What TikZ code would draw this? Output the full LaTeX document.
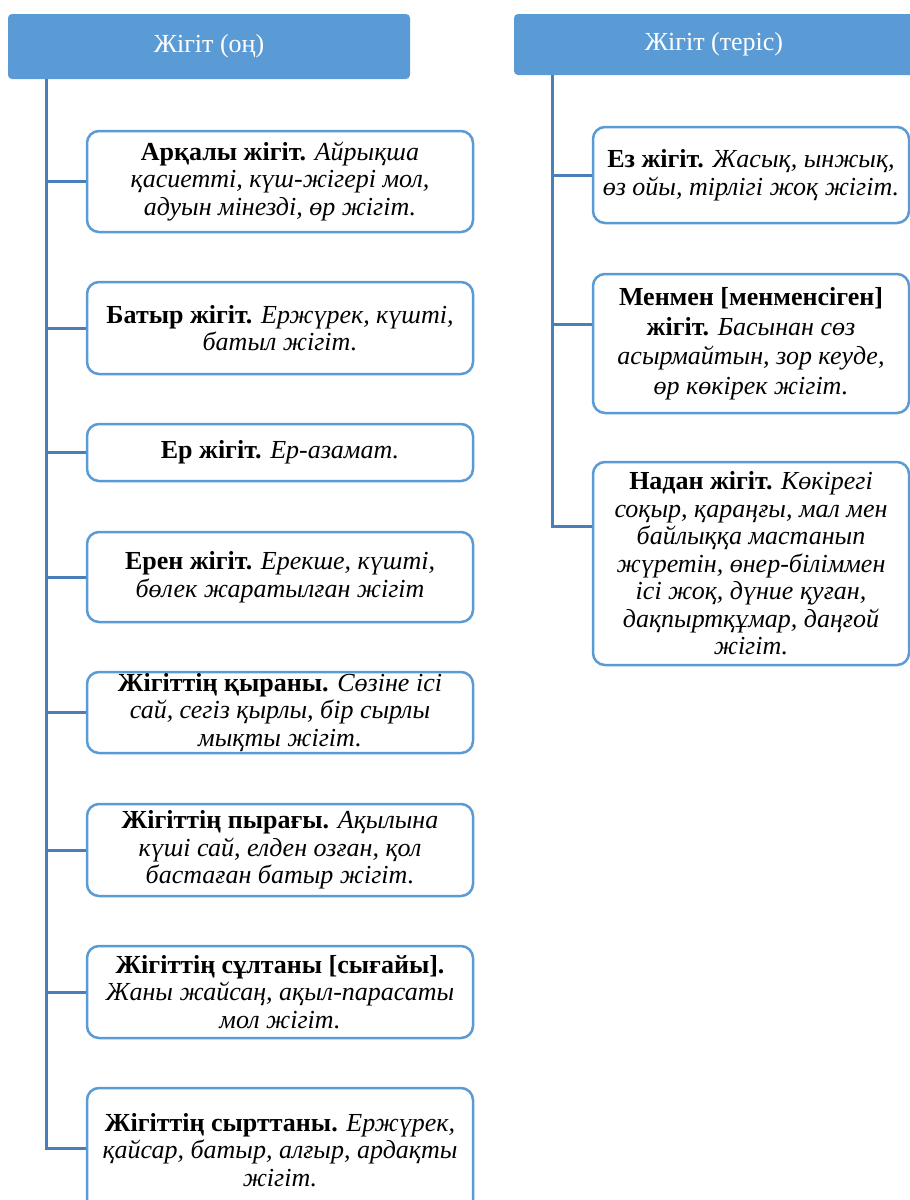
\documentclass[tikz,border=0pt]{standalone}
\usepackage{fontspec}
\setmainfont{Liberation Serif}
\usetikzlibrary{positioning}
\definecolor{hdrblue}{HTML}{5B9BD5}
\definecolor{lineblue}{HTML}{4A7EBB}
\tikzstyle{header}=[rectangle,rounded corners=4pt,fill=hdrblue,text=white,inner sep=0pt,font=\fontsize{26}{28}\selectfont]
\tikzstyle{entry}=[rectangle,draw=hdrblue,fill=white,line width=2.5pt,rounded corners=12pt,align=center,inner sep=0pt,font=\fontsize{26}{27.5}\selectfont]
\tikzstyle{leftentry}=[entry,minimum width=386pt]
\tikzstyle{rightentry}=[entry,minimum width=316pt]
\tikzstyle{branch}=[draw=lineblue,line width=3pt]

\begin{document}
\begin{tikzpicture}[x=1pt,y=-1pt]
    \useasboundingbox (0,0) rectangle (910,1200);

    % two headings
    \node[header,minimum width=402pt,minimum height=65pt] (onhdr) at (209,46.5) {Жігіт (оң)};
    \node[header,minimum width=400pt,minimum height=61pt] (terishdr) at (714,44.5) {Жігіт (теріс)};
    \coordinate (onT) at ([xshift=39pt]onhdr.south west);
    \coordinate (terisT) at ([xshift=39pt]terishdr.south west);

    % positive kinds
    \foreach \pos/ \name/ \boxh/ \label in {
        {(280,181.5)/arq/101/{\textbf{Арқалы жігіт.} \textit{Айрықша}\\ \textit{қасиетті, күш-жігері мол,}\\ \textit{адуын мінезді, өр жігіт.}}},
        {(280,328)/batyr/92/{\textbf{Батыр жігіт.} \textit{Ержүрек, күшті,}\\ \textit{батыл жігіт.}}},
        {(280,452.5)/er/57/{\textbf{Ер жігіт.} \textit{Ер-азамат.}}},
        {(280,577)/eren/90/{\textbf{Ерен жігіт.} \textit{Ерекше, күшті,}\\ \textit{бөлек жаратылған жігіт}}},
        {(280,712.5)/qyran/81/{\textbf{Жігіттің қыраны.} \textit{Сөзіне ісі}\\ \textit{сай, сегіз қырлы, бір сырлы}\\ \textit{мықты жігіт.}}},
        {(280,850)/pyraq/92/{\textbf{Жігіттің пырағы.} \textit{Ақылына}\\ \textit{күші сай, елден озған, қол}\\ \textit{бастаған батыр жігіт.}}},
        {(280,992)/sultan/92/{\textbf{Жігіттің сұлтаны [сығайы].}\\ \textit{Жаны жайсаң, ақыл-парасаты}\\ \textit{мол жігіт.}}},
        {(280,1150)/syrt/124/{\textbf{Жігіттің сырттаны.} \textit{Ержүрек,}\\ \textit{қайсар, батыр, алғыр, ардақты}\\ \textit{жігіт.}}}}
        \node[leftentry,minimum height=\boxh pt] (\name) at \pos {\label};

    % negative kinds
    \foreach \pos/ \name/ \boxh/ \label in {
        {(751,175)/ez/96/{\textbf{Ез жігіт.} \textit{Жасық, ынжық,}\\ \textit{өз ойы, тірлігі жоқ жігіт.}}},
        {(751,343.5)/menmen/139/{\textbf{Менмен [менменсіген]}\\[2pt] \textbf{жігіт.} \textit{Басынан сөз}\\[2pt] \textit{асырмайтын, зор кеуде,}\\[2pt] \textit{өр көкірек жігіт.}}},
        {(751,563.5)/nadan/203/{\textbf{Надан жігіт.} \textit{Көкірегі}\\ \textit{соқыр, қараңғы, мал мен}\\ \textit{байлыққа мастанып}\\ \textit{жүретін, өнер-біліммен}\\ \textit{ісі жоқ, дүние қуған,}\\ \textit{дақпыртқұмар, даңғой}\\ \textit{жігіт.}}}}
        \node[rightentry,minimum height=\boxh pt] (\name) at \pos {\label};

    % branches from the trunks
    \foreach \name/ \dy in {arq/0, batyr/0, er/0, eren/0, qyran/0, pyraq/0, sultan/0, syrt/2}
        \path ([yshift=\dy pt]\name.west) coordinate (j\name);
    \foreach \name/ \dy in {ez/0, menmen/19.5, nadan/37.5}
        \path ([yshift=\dy pt]\name.west) coordinate (j\name);

    \draw[branch] (onT) |- (jsyrt);
    \draw[branch] (terisT) |- (jnadan);
    \foreach \name in {arq, batyr, er, eren, qyran, pyraq, sultan}
        \draw[branch] (onT |- j\name) -- (j\name);
    \foreach \name in {ez, menmen}
        \draw[branch] (terisT |- j\name) -- (j\name);

\end{tikzpicture}
\end{document}
